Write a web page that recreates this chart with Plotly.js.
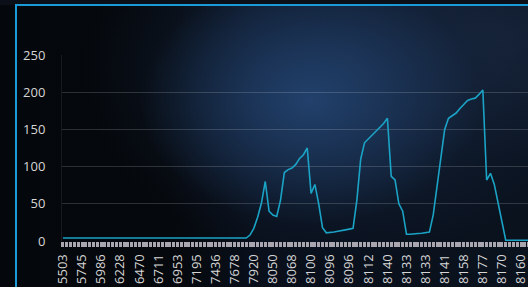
<!DOCTYPE html>
<html>
<head>
<meta charset="utf-8">
<script src="https://cdn.plot.ly/plotly-3.0.1.min.js"></script>
<style>
html,body{margin:0;padding:0;width:528px;height:287px;overflow:hidden;background:#04070b;}
#bg{position:absolute;left:0;top:0;width:528px;height:287px;
background:
 radial-gradient(ellipse 170px 125px at 310px 100px, rgba(34,66,110,0.95), rgba(30,58,96,0) 100%),
 radial-gradient(ellipse 260px 190px at 340px 70px, rgba(24,44,74,0.75), rgba(24,44,74,0) 100%),
 radial-gradient(ellipse 200px 120px at 500px 40px, rgba(22,34,54,0.85), rgba(22,34,54,0) 100%),
 linear-gradient(90deg, #04070b 0px, #05080c 170px, #09101c 260px, #0a121e 528px);}
#topband{position:absolute;left:0;top:0;width:528px;height:5px;background:#0a0f18;}
#frame{position:absolute;left:15px;top:4px;width:600px;height:400px;border-left:2px solid #1a9ad6;border-top:2px solid #1a9ad6;}
#chart{position:absolute;left:0;top:0;}
</style>
</head>
<body>
<div id="bg"></div>
<div id="topband"></div>
<div id="frame"></div>
<div id="chart"></div>
<script>
// Tick labels (every 5th category)
const tickLabels = ["5503","5745","5986","6228","6470","6711","6953","7195","7436","7678",
  "7920","8050","8068","8100","8096","8096","8112","8140","8133","8133",
  "8141","8158","8177","8170","8160"];
// Series values, one per category
const values = [
  4,4,4,3.5,3,3,3,3.5,4,4,
  3.5,3,3,3,3.5,4,4,3.5,3,3,
  3,3,3,3.5,4,4,3.5,3,3,3,
  3,3,3,3,3.5,4,3.5,3,3,3,
  3,3,3,3,3,3,3,3,4,8,
  17,32,51,80,40,35,33,55,92,96,
  98,103,111,116,125,64,76,50,18,11,
  11,12,13,14.5,15,16,17,55,110,132,
  137,142,148,152,158,165,87,82,50,40,
  9,9,10,10,10.5,11,12,35,72,110,
  150,165,168,172,178,184,189,191,192,197,
  203,82,91,76,51,22,1,1,1,1,
  1,1,1,1,1
];
const idx = values.map((_, i) => i);
const tickVals = tickLabels.map((_, i) => i * 5);

const font = {family: "Open Sans, DejaVu Sans, sans-serif", size: 13, color: "#d6d6d6"};

Plotly.newPlot("chart", [{
  x: idx, y: values, type: "scatter", mode: "lines",
  line: {color: "#1ba3c6", width: 1.6}, hoverinfo: "skip"
}], {
  width: 545, height: 287,
  margin: {l: 62, r: 7, t: 55, b: 46},
  paper_bgcolor: "rgba(0,0,0,0)", plot_bgcolor: "rgba(0,0,0,0)",
  font: font, showlegend: false,
  xaxis: {
    range: [-0.25, 124.45], tickmode: "array", tickvals: tickVals, ticktext: tickLabels,
    tickangle: -90, ticks: "outside", ticklen: 5, tickwidth: 3, tickcolor: "#a9a6b0",
    minor: {tickmode: "linear", tick0: 0, dtick: 1, ticks: "outside", ticklen: 5, tickwidth: 3, tickcolor: "#a9a6b0", showgrid: false},
    showgrid: false, zeroline: false, showline: false, ticklabelstandoff: 2,
    tickfont: font
  },
  yaxis: {
    range: [0, 250], dtick: 50, tick0: 0, showgrid: true, gridcolor: "rgba(255,255,255,0.16)", gridwidth: 1,
    zeroline: false, showline: true, linecolor: "rgba(255,255,255,0.08)", linewidth: 1,
    ticks: "", ticklabelstandoff: 13, tickfont: font
  }
}, {displayModeBar: false, staticPlot: true});
</script>
</body>
</html>
